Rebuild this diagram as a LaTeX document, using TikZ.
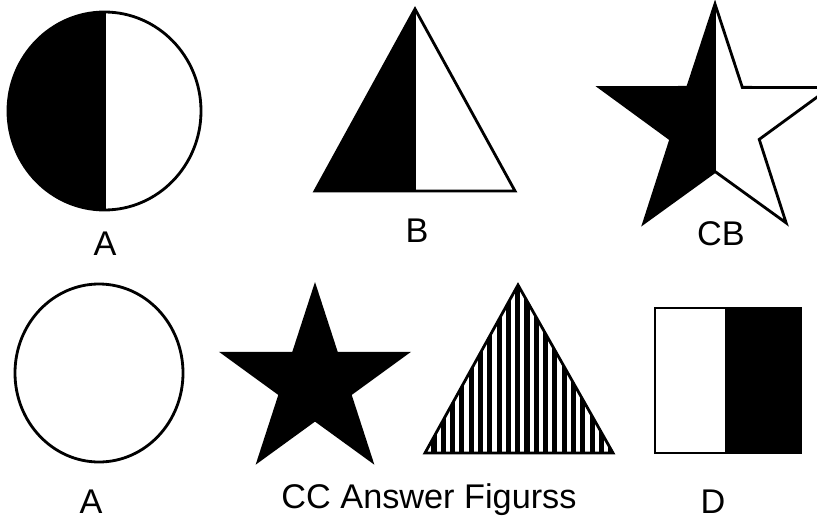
\documentclass[tikz,border=0pt]{standalone}
\usepackage{fontspec}
\setmainfont{Liberation Sans}
\usetikzlibrary{positioning}

% star outline as a path, #1 outer radius, #2 inner radius
\newcommand\starpath[2]{(-90:#1) -- (-54:#2) -- (-18:#1) -- (18:#2) -- (54:#1) -- (90:#2) -- (126:#1) -- (162:#2) -- (198:#1) -- (234:#2) -- cycle}

\begin{document}
\begin{tikzpicture}[
  x=0.02cm, y=-0.02cm,
  outline/.style={draw=black, line width=1.6pt, line join=miter},
  lbl/.style={anchor=base, inner sep=0pt, font=\fontsize{19.5}{22}\selectfont}
]
\clip (0,0) rectangle (817,527);
\fill[white] (0,0) rectangle (817,527);

% top row: half filled figures
\begin{scope}
  \clip (0,0) rectangle (104.5,230);
  \fill[black] (104.5,111) ellipse [x radius=96.5, y radius=99];
\end{scope}
\draw[outline] (104.5,111) ellipse [x radius=96.5, y radius=99];
\draw[outline] (104.5,12) -- (104.5,210);

\fill[black] (315,191) -- (415,9) -- (415,191) -- cycle;
\draw[outline] (315,191) -- (415,9) -- (515,191) -- cycle;
\draw[outline] (415,9) -- (415,191);

\begin{scope}[shift={(715,125)}]
  \fill[black] (-90:121) -- (234:46.5) -- (198:121) -- (162:46.5) -- (126:121) -- (90:46.5) -- cycle;
  \draw[outline] \starpath{121}{46.5};
  \draw[outline] (-90:121) -- (90:46.5);
\end{scope}

\node[lbl] (labA) at (105,255) {A};
\node[lbl] (labB) at (417,242) {B};
\node[lbl] (labCB) at (721,245) {CB};

% bottom row: answer figures
\draw[outline] (99,373) ellipse [x radius=84, y radius=89];

\begin{scope}[shift={(315,383)}]
  \fill[black] \starpath{101}{38.6};
\end{scope}

\begin{scope}
  \clip (425,453) -- (518,285) -- (613,453) -- cycle;
  \foreach \k in {0,...,19}
    \draw[line width=2.9pt] (434+9.3*\k,280) -- ++(0,180);
\end{scope}
\draw[outline] (425,453) -- (518,285) -- (613,453) -- cycle;

\fill[black] (726,308) rectangle (801,453);
\draw[outline] (655,308) rectangle (801,453);
\draw[outline] (726,308) -- (726,453);

\node[lbl] (labA2) at (91,513) {A};
\node[lbl] (labAns) at (429,508) {CC Answer Figurss};
\node[lbl] (labD) at (713,513) {D};
\end{tikzpicture}
\end{document}
